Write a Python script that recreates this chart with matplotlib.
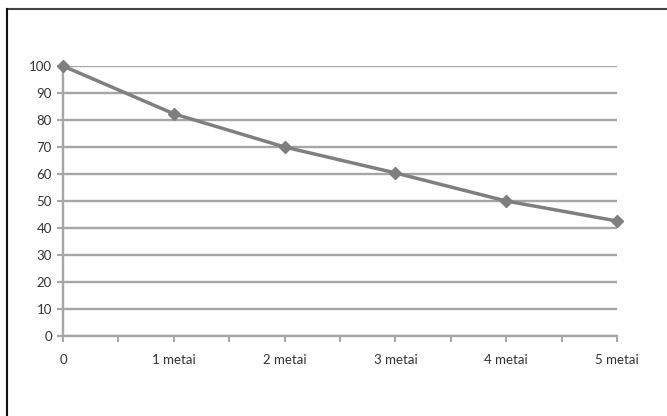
import matplotlib
matplotlib.use("Agg")
import matplotlib.pyplot as plt
from matplotlib.lines import Line2D
from matplotlib.ticker import MultipleLocator

x_labels = ["0", "1 metai", "2 metai", "3 metai", "4 metai", "5 metai"]
years = [0, 1, 2, 3, 4, 5]
values = [100, 82.3, 70, 60.4, 50, 42.6]

plt.rcParams["font.family"] = ["Lato", "DejaVu Sans"]

fig = plt.figure(figsize=(6.67, 4.16), dpi=100)
ax = fig.add_axes([0.0945, 0.1923, 0.8305, 0.649])

grid_color = "#a6a6a6"
ax.set_ylim(0, 100)
ax.set_xlim(0, 5)
ax.yaxis.set_major_locator(MultipleLocator(10))
ax.set_xticks(years)
ax.set_xticklabels(x_labels)
ax.xaxis.set_minor_locator(MultipleLocator(0.5))

ax.grid(axis="y", color=grid_color, linewidth=1.7, zorder=1)
ax.set_axisbelow(True)

for side in ["top", "right"]:
    ax.spines[side].set_visible(False)
for side in ["left", "bottom"]:
    ax.spines[side].set_color(grid_color)
    ax.spines[side].set_linewidth(1.7)

ax.tick_params(axis="both", which="both", color=grid_color, width=1.5,
               labelsize=9.5, labelcolor="#333333")
ax.tick_params(axis="y", length=4, pad=4)
ax.tick_params(axis="x", which="major", length=4, pad=9)
ax.tick_params(axis="x", which="minor", length=4)

ax.plot(years, values, color="#7f7f7f", linewidth=2.5, marker="D",
        markersize=6.5, markeredgecolor="#7f7f7f", clip_on=False, zorder=3)

# partial frame around the chart (top and left only)
fig.add_artist(Line2D([0.0105, 1.0], [0.978, 0.978], transform=fig.transFigure,
                      color="#444444", linewidth=1.5))
fig.add_artist(Line2D([0.0112, 0.0112], [0.0, 0.978], transform=fig.transFigure,
                      color="#111111", linewidth=1.5))

fig.savefig("out.png", dpi=100)
